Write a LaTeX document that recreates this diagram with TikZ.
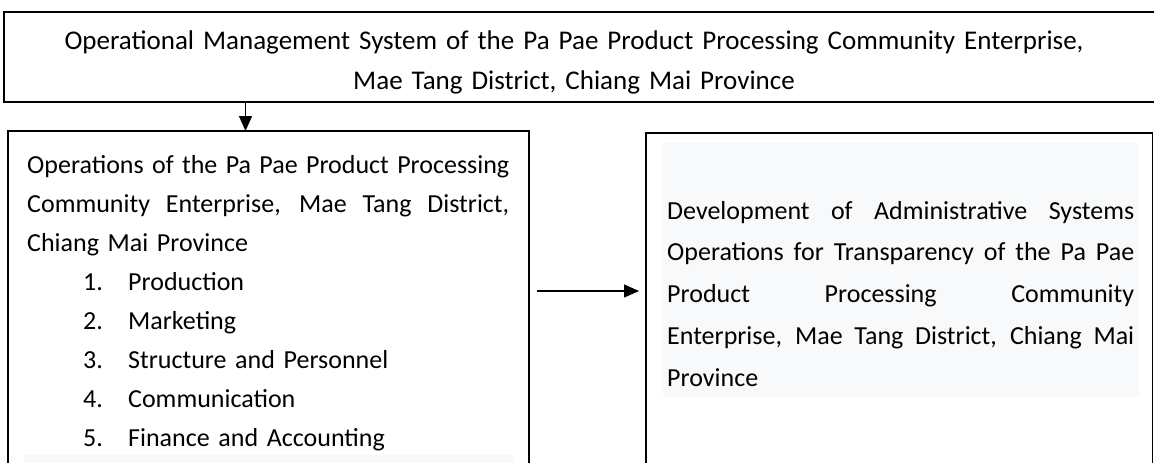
\documentclass[tikz,border=0pt]{standalone}
\usepackage{fontspec}
\setmainfont{Carlito}
\usetikzlibrary{arrows.meta}
\definecolor{shade}{HTML}{F8F9FA}
\tikzset{
  frame/.style={draw=black, line width=1.6pt},
  shadebox/.style={fill=shade, draw=none},
  conn/.style={line width=1.3pt, -{Triangle[length=15pt,width=13pt]}},
  txt/.style={inner sep=0pt, anchor=base west, align=left,
    font=\fontsize{26}{39}\selectfont},
}
\newcommand{\jline}[1]{\makebox[\hsize][s]{\spaceskip=0pt\relax\xspaceskip=0pt\relax #1}}
\newcommand{\listitem}[2]{\hspace*{56pt}\makebox[45pt][l]{#1}#2}
\begin{document}
\begin{tikzpicture}[x=1pt,y=-1pt]
\useasboundingbox (0,0) rectangle (1154,463);
% boxes
\draw[frame] (4,12) rectangle (1170,102);
\draw[frame] (8,131) rectangle (529,490);
\fill[shadebox] (24,455) rectangle (513,480);
\draw[frame] (646,133) rectangle (1152.5,490);
\fill[shadebox] (663,143) rectangle (1139,397);
\coordinate (topb) at (245.5,102);
\coordinate (lefttop) at (245.5,131);
\coordinate (lefte) at (537,291);
\coordinate (righte) at (646,291);
% texts
\node[inner sep=0pt, anchor=base, align=center, text width=1120pt,
  font=\fontsize{27}{40}\selectfont] (toptext) at (574,49)
  {Operational Management System of the Pa Pae Product Processing Community Enterprise,\\
   Mae Tang District, Chiang Mai Province};
\node[txt, text width=482pt] (lefttext) at (27,173)
  {\jline{Operations of the Pa Pae Product Processing}\\
   \jline{Community Enterprise, Mae Tang District,}\\
   Chiang Mai Province\\
   \listitem{1.}{Production}\\
   \listitem{2.}{Marketing}\\
   \listitem{3.}{Structure and Personnel}\\
   \listitem{4.}{Communication}\\
   \listitem{5.}{Finance and Accounting}};
\node[txt, text width=467pt, font=\fontsize{26}{41.8}\selectfont] (righttext) at (667,219)
  {\jline{Development of Administrative Systems}\\
   \jline{Operations for Transparency of the Pa Pae}\\
   \jline{Product Processing Community}\\
   \jline{Enterprise, Mae Tang District, Chiang Mai}\\
   Province};
% connectors
\draw[conn] (topb) -- (lefttop);
\draw[conn, shorten >=7pt] (lefte) -- (righte);
\end{tikzpicture}
\end{document}
